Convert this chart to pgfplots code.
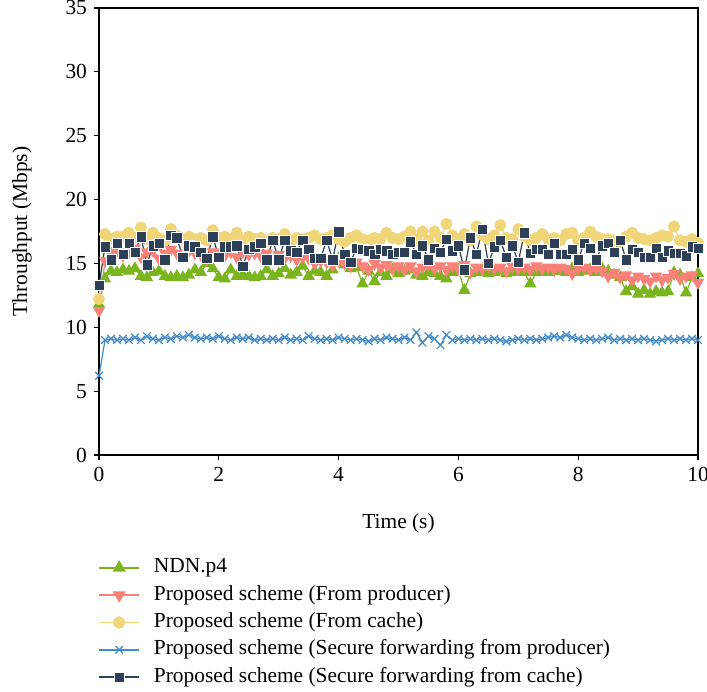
\documentclass[border=0pt]{standalone}
\usepackage{fontspec}
\setmainfont{Liberation Serif}
\usepackage{pgfplots}
\usepackage{pgfplotstable}
\pgfplotsset{compat=1.18}

\definecolor{ndngreen}{RGB}{122,181,29}
\definecolor{prodpink}{RGB}{250,128,120}
\definecolor{cachegold}{RGB}{240,214,120}
\definecolor{secblue}{RGB}{66,139,202}
\definecolor{secnavy}{RGB}{46,64,87}

% t: time (s); g: NDN.p4; r: from producer; y: from cache;
% b: secure from producer; n: secure from cache
\pgfplotstableread{
t    g    r    y    b    n
0.0 11.8 11.3 12.2 6.2 13.3
0.1 13.8 15.2 17.3 9.0 16.3
0.2 14.4 15.9 16.9 9.1 15.3
0.3 14.3 16.0 17.1 9.0 16.6
0.4 14.5 15.6 17.1 9.1 15.7
0.5 14.4 15.9 17.4 9.0 16.6
0.6 14.6 16.2 17.0 9.2 15.9
0.7 14.0 15.5 17.8 9.0 17.1
0.8 13.9 15.9 16.9 9.3 14.9
0.9 14.3 16.0 17.4 9.1 16.4
1.0 14.4 15.4 17.0 9.0 16.6
1.1 14.0 15.8 16.8 9.2 15.3
1.2 13.9 16.1 17.7 9.1 17.2
1.3 14.0 15.8 17.2 9.3 17.0
1.4 13.9 15.6 16.9 9.2 15.5
1.5 14.1 16.0 17.1 9.4 16.4
1.6 14.5 15.8 16.9 9.2 16.3
1.7 14.3 15.7 17.0 9.1 15.9
1.8 15.0 15.3 16.8 9.2 15.4
1.9 14.6 15.9 17.6 9.1 17.1
2.0 13.9 15.8 17.0 9.3 15.5
2.1 13.8 15.6 17.1 9.1 16.3
2.2 14.5 15.9 16.9 9.0 16.3
2.3 14.0 15.5 17.4 9.2 16.4
2.4 14.1 15.9 16.8 9.1 14.8
2.5 14.0 15.7 17.1 9.2 16.1
2.6 13.9 15.8 16.9 9.0 16.3
2.7 14.0 15.6 17.0 9.1 16.6
2.8 14.5 15.8 16.7 9.0 15.3
2.9 14.0 15.5 17.0 9.1 16.8
3.0 14.2 15.7 16.9 9.0 15.3
3.1 14.6 15.4 17.3 9.2 16.8
3.2 14.1 15.6 16.8 9.0 16.0
3.3 14.3 15.3 17.0 9.1 15.9
3.4 14.8 15.5 16.9 9.0 16.8
3.5 14.0 15.4 17.0 9.3 16.1
3.6 14.4 15.0 17.2 9.1 15.4
3.7 14.3 15.2 16.9 9.0 15.4
3.8 14.0 15.1 17.0 9.1 16.8
3.9 14.5 14.9 17.2 9.0 15.3
4.0 15.4 15.2 16.9 9.2 17.5
4.1 14.9 15.0 16.7 9.1 15.7
4.2 14.6 14.8 17.0 9.0 15.1
4.3 14.7 15.1 17.2 9.1 16.2
4.4 13.4 14.8 16.9 9.0 16.1
4.5 14.4 14.5 16.8 8.9 16.0
4.6 13.6 15.0 17.0 9.1 15.7
4.7 14.3 14.7 16.9 9.0 16.1
4.8 14.0 14.9 17.4 9.2 16.0
4.9 14.5 14.6 17.0 9.1 15.7
5.0 14.2 14.8 16.9 9.0 15.9
5.1 14.4 14.5 17.1 9.2 15.9
5.2 14.5 14.8 17.5 9.0 16.7
5.3 14.1 14.4 16.9 9.6 15.7
5.4 14.0 14.7 17.5 8.8 16.4
5.5 14.3 14.9 16.8 9.3 15.3
5.6 14.2 14.6 17.5 9.1 16.2
5.7 14.0 14.8 17.0 8.6 15.9
5.8 13.8 14.5 18.1 9.4 16.9
5.9 14.3 14.8 17.2 9.0 16.0
6.0 14.5 14.6 16.9 9.1 16.4
6.1 12.9 14.9 17.3 9.0 14.5
6.2 14.2 14.3 16.8 9.1 17.0
6.3 14.3 14.7 17.9 9.0 15.7
6.4 14.4 14.6 17.2 9.1 17.7
6.5 14.2 14.8 16.9 9.0 15.0
6.6 14.3 14.6 17.2 9.1 16.3
6.7 14.4 14.7 18.0 9.0 16.8
6.8 14.2 14.4 17.0 8.9 15.5
6.9 14.3 14.8 16.9 9.0 16.4
7.0 14.4 14.6 17.7 9.1 15.1
7.1 14.3 14.7 17.1 9.0 17.4
7.2 13.4 14.5 16.8 9.1 15.8
7.3 14.3 14.8 17.0 9.0 16.1
7.4 14.4 14.6 17.3 9.1 16.1
7.5 14.3 14.7 16.9 9.2 15.7
7.6 14.4 14.5 17.0 9.3 16.6
7.7 14.4 14.7 16.8 9.2 15.7
7.8 14.3 14.6 17.3 9.4 15.7
7.9 14.6 14.2 17.4 9.2 16.1
8.0 14.3 14.6 16.8 9.1 15.3
8.1 14.4 14.7 17.0 9.0 16.6
8.2 14.5 14.5 17.5 9.1 16.2
8.3 14.3 14.6 17.1 9.0 15.3
8.4 14.6 14.4 16.9 9.1 16.4
8.5 14.4 14.0 16.9 9.2 16.6
8.6 14.1 14.3 16.8 9.0 15.9
8.7 13.9 13.9 16.7 9.1 16.8
8.8 12.8 14.1 17.1 9.0 15.3
8.9 13.2 13.7 17.4 9.1 16.1
9.0 12.6 14.0 17.0 9.0 15.9
9.1 12.9 13.8 16.9 9.1 15.5
9.2 12.6 13.6 16.8 9.0 15.5
9.3 12.8 14.0 17.0 8.9 16.2
9.4 12.7 13.7 17.2 9.0 15.5
9.5 12.8 13.9 17.1 9.1 16.0
9.6 14.3 14.2 17.9 9.0 15.8
9.7 14.1 13.8 16.8 9.1 15.8
9.8 12.7 14.0 16.7 9.0 15.6
9.9 13.9 14.1 16.9 9.1 16.3
10.0 14.2 13.5 16.6 9.0 16.2
}\thrdata

\begin{document}
\begin{tikzpicture}
\useasboundingbox (-49.5bp,-118.5bp) rectangle (304bp,227.5bp);
\begin{axis}[
  at={(0,0)}, anchor=south west,
  scale only axis,
  width=299.5bp, height=223.5bp,
  font=\fontsize{10.75}{13}\selectfont,
  /pgf/number format/assume math mode=true,
  xmin=0, xmax=10, ymin=0, ymax=35,
  xtick={0,2,...,10}, ytick={0,5,...,35},
  tick align=outside, tick pos=left,
  major tick length=2.5bp,
  axis line style={line width=0.6bp},
  every tick/.style={line width=0.6bp, black},
  xlabel={Time (s)}, ylabel={Throughput (Mbps)},
  xlabel style={at={(axis description cs:0.5,-0.152)}, anchor=center},
  ylabel style={at={(axis description cs:-0.1286,0.5)}, anchor=center},
  clip=false,
  legend cell align=left,
  legend style={
    at={(axis description cs:0,0)}, anchor=north west,
    xshift=-0.5bp, yshift=-49.4bp,
    draw=none, fill=none, inner sep=0pt,
    nodes={inner sep=1.55bp, text height=7.8bp, text depth=2.75bp},
    font=\fontsize{10.75}{13}\selectfont,
  },
  legend image code/.code={
    \draw[line width=0.8bp, mark repeat=2, mark phase=2]
      plot coordinates {(0bp,0bp) (10bp,0bp) (20bp,0bp)};
    \path (25.5bp,0bp);
  },
  every axis plot/.append style={line width=0.6bp},
]
\addplot[ndngreen, mark=triangle*, mark size=3bp, mark options={solid, fill=ndngreen}] table[x=t, y=g] {\thrdata};
\addlegendentry{NDN.p4}
\addplot[prodpink, mark=triangle*, mark size=3bp, mark options={solid, fill=prodpink, rotate=180}] table[x=t, y=r] {\thrdata};
\addlegendentry{Proposed scheme (From producer)}
\addplot[cachegold, mark=*, mark size=2.7bp, mark options={solid, fill=cachegold, draw=cachegold}] table[x=t, y=y] {\thrdata};
\addlegendentry{Proposed scheme (From cache)}
\addplot[secblue, mark=x, mark size=2.7bp, mark options={solid, line width=0.6bp}] table[x=t, y=b] {\thrdata};
\addlegendentry{Proposed scheme (Secure forwarding from producer)}
\addplot[secnavy, mark=square*, mark size=2.6bp, mark options={solid, fill=secnavy, draw=white, line width=0.2bp}] table[x=t, y=n] {\thrdata};
\addlegendentry{Proposed scheme (Secure forwarding from cache)}
\end{axis}
\end{tikzpicture}
\end{document}
